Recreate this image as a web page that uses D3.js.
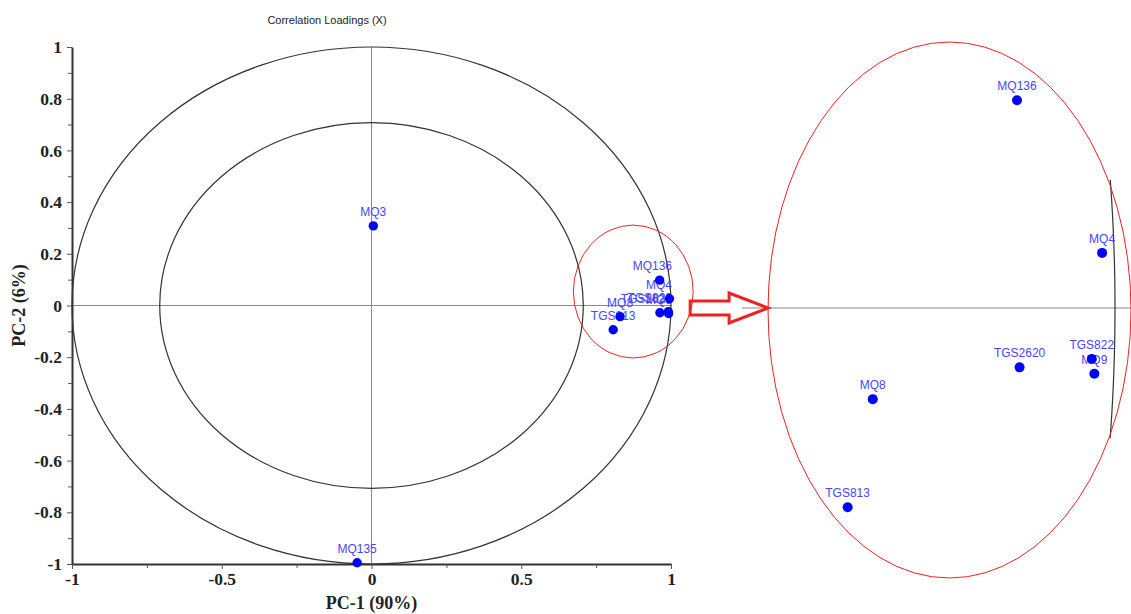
<!DOCTYPE html>
<html>
<head>
<meta charset="utf-8">
<script src="https://cdn.jsdelivr.net/npm/d3@7"></script>
<style>
  html, body { margin: 0; padding: 0; background: #fff; }
  svg { display: block; }
</style>
</head>
<body>
<svg id="chart" width="1131" height="614"></svg>
<script>
// Sensor loadings on the first two principal components
const sensors = ["MQ3", "MQ135", "MQ136", "MQ4", "TGS822", "TGS2620", "MQ9", "MQ8", "TGS813"];
const pc1 = [0.006, -0.048, 0.962, 0.995, 0.991, 0.963, 0.992, 0.830, 0.807];
const pc2 = [0.308, -0.995, 0.098, 0.026, -0.024, -0.028, -0.031, -0.043, -0.094];

// Axis ticks
const yMajorTicks = [-1, -0.8, -0.6, -0.4, -0.2, 0, 0.2, 0.4, 0.6, 0.8, 1];
const yMinorTicks = [-0.9, -0.7, -0.5, -0.3, -0.1, 0.1, 0.3, 0.5, 0.7, 0.9];
const xMajorTicks = [-1, -0.5, 0, 0.5, 1];
const xMinorTicks = [-0.75, -0.25, 0.25, 0.75];

// Correlation circles (100% and 50% explained variance)
const circleRadii = [1, Math.sqrt(0.5)];

// Region of the loading plot that is enlarged on the right
const focusCenter = [0.874, 0.054];
const focusRadii = [0.2, 0.257];

const points = sensors.map((s, i) => ({ name: s, pc1: pc1[i], pc2: pc2[i] }));

const svg = d3.select("#chart");
const labelFont = "'Liberation Sans', Arial, sans-serif";
const serifFont = "'Liberation Serif', 'Times New Roman', serif";
const blue = "#0000ff";
const labelBlue = "#4646ff";
const red = "#ee2222";

// ---------- main loading plot ----------
const x = d3.scaleLinear().domain([-1, 1]).range([72, 671]);
const y = d3.scaleLinear().domain([-1, 1]).range([564, 47]);

svg.append("text")
  .attr("x", 327).attr("y", 24)
  .attr("text-anchor", "middle")
  .attr("font-family", labelFont).attr("font-size", 11)
  .attr("fill", "#222")
  .text("Correlation Loadings (X)");

// zero lines
svg.append("line")
  .attr("x1", x(0)).attr("x2", x(0)).attr("y1", y(1)).attr("y2", y(-1))
  .attr("stroke", "#8a8a8a").attr("stroke-width", 1);
svg.append("line")
  .attr("x1", x(-1)).attr("x2", x(1)).attr("y1", y(0)).attr("y2", y(0))
  .attr("stroke", "#8a8a8a").attr("stroke-width", 1);

// correlation circles
svg.selectAll("ellipse.corr").data(circleRadii).join("ellipse")
  .attr("class", "corr")
  .attr("cx", x(0)).attr("cy", y(0))
  .attr("rx", r => x(r) - x(0))
  .attr("ry", r => y(0) - y(r))
  .attr("fill", "none").attr("stroke", "#333").attr("stroke-width", 1.2);

// axes
const fmt = d => String(+d.toFixed(2));
const yAxis = svg.append("g").attr("transform", `translate(${x(-1)},0)`)
  .call(d3.axisLeft(y).tickValues(yMajorTicks).tickFormat(fmt).tickSize(5).tickPadding(5).tickSizeOuter(0));
svg.append("g").attr("transform", `translate(${x(-1)},0)`)
  .call(d3.axisLeft(y).tickValues(yMinorTicks).tickFormat("").tickSize(4).tickSizeOuter(0))
  .select(".domain").remove();
const xAxis = svg.append("g").attr("transform", `translate(0,${y(-1)})`)
  .call(d3.axisBottom(x).tickValues(xMajorTicks).tickFormat(fmt).tickSize(5).tickPadding(4).tickSizeOuter(0));
svg.append("g").attr("transform", `translate(0,${y(-1)})`)
  .call(d3.axisBottom(x).tickValues(xMinorTicks).tickFormat("").tickSize(4).tickSizeOuter(0))
  .select(".domain").remove();

svg.selectAll(".domain").attr("stroke", "#333").attr("stroke-width", 2);
svg.selectAll(".tick line").attr("stroke", "#555").attr("stroke-width", 1);
[yAxis, xAxis].forEach(g => g.selectAll("text")
  .attr("font-family", serifFont).attr("font-weight", "bold")
  .attr("font-size", 17.5).attr("fill", "#222"));

svg.append("text")
  .attr("x", x(0)).attr("y", 609)
  .attr("text-anchor", "middle")
  .attr("font-family", serifFont).attr("font-weight", "bold").attr("font-size", 18)
  .attr("fill", "#222")
  .text("PC-1 (90%)");
svg.append("text")
  .attr("transform", `translate(25,${y(0)}) rotate(-90)`)
  .attr("text-anchor", "middle")
  .attr("font-family", serifFont).attr("font-weight", "bold").attr("font-size", 18)
  .attr("fill", "#222")
  .text("PC-2 (6%)");

// sensor labels (kept inside the plot frame), then markers
const plotRight = x(1) + 1;
svg.append("g").selectAll("text").data(points).join("text")
  .attr("x", d => x(d.pc1)).attr("y", d => y(d.pc2) - 10)
  .attr("text-anchor", "middle")
  .attr("font-family", labelFont).attr("font-size", 12)
  .attr("fill", labelBlue)
  .text(d => d.name)
  .each(function (d) {
    const w = this.getComputedTextLength();
    const cx = Math.min(x(d.pc1), plotRight - w / 2);
    d3.select(this).attr("x", cx);
  });
svg.append("g").selectAll("circle").data(points).join("circle")
  .attr("cx", d => x(d.pc1)).attr("cy", d => y(d.pc2))
  .attr("r", 4.7).attr("fill", blue);

// focus ellipse
svg.append("ellipse")
  .attr("cx", x(focusCenter[0])).attr("cy", y(focusCenter[1]))
  .attr("rx", x(focusCenter[0] + focusRadii[0]) - x(focusCenter[0]))
  .attr("ry", y(focusCenter[1]) - y(focusCenter[1] + focusRadii[1]))
  .attr("fill", "none").attr("stroke", red).attr("stroke-width", 1);

// ---------- enlarged view ----------
const inset = { cx: 949.5, cy: 310, rx: 181.5, ry: 268 };
const zx = d3.scaleLinear().domain([0.80, 0.962, 1.0]).range([840, 1017, 1115]);
const zy = d3.scaleLinear().domain([0, 0.1]).range([308, 96]);

const insetPoints = points.filter(d => {
  const dx = (d.pc1 - focusCenter[0]) / focusRadii[0];
  const dy = (d.pc2 - focusCenter[1]) / focusRadii[1];
  return dx * dx + dy * dy <= 1;
});

// zero line of the enlarged view
svg.append("line")
  .attr("x1", 742).attr("x2", 1131).attr("y1", zy(0)).attr("y2", zy(0))
  .attr("stroke", "#8a8a8a").attr("stroke-width", 1);

// part of the unit circle that falls inside the enlarged region
const arcY = d3.range(-0.0615, 0.0616, 0.002);
svg.append("path")
  .attr("d", d3.line().x(v => zx(Math.sqrt(1 - v * v))).y(v => zy(v))(arcY))
  .attr("fill", "none").attr("stroke", "#333").attr("stroke-width", 1.2);

svg.append("ellipse")
  .attr("cx", inset.cx).attr("cy", inset.cy)
  .attr("rx", inset.rx).attr("ry", inset.ry)
  .attr("fill", "none").attr("stroke", red).attr("stroke-width", 1);

svg.append("g").selectAll("text").data(insetPoints).join("text")
  .attr("x", d => zx(d.pc1)).attr("y", d => zy(d.pc2) - 10)
  .attr("text-anchor", "middle")
  .attr("font-family", labelFont).attr("font-size", 12)
  .attr("fill", labelBlue)
  .text(d => d.name);
svg.append("g").selectAll("circle").data(insetPoints).join("circle")
  .attr("cx", d => zx(d.pc1)).attr("cy", d => zy(d.pc2))
  .attr("r", 5).attr("fill", blue);

// arrow from the focus ellipse to the enlarged view
const ax0 = x(focusCenter[0] + focusRadii[0]) - 3;
const axTip = inset.cx - inset.rx;
const axHead = ax0 + (axTip - ax0) * 0.5;
const ay = zy(0);
const arrowPts = [
  [ax0, ay - 7], [axHead, ay - 7], [axHead, ay - 15], [axTip, ay],
  [axHead, ay + 15], [axHead, ay + 7], [ax0, ay + 7]
];
svg.append("path")
  .attr("d", d3.line()(arrowPts) + "Z")
  .attr("fill", "none").attr("stroke", red).attr("stroke-width", 3)
  .attr("stroke-linejoin", "miter");
</script>
</body>
</html>
